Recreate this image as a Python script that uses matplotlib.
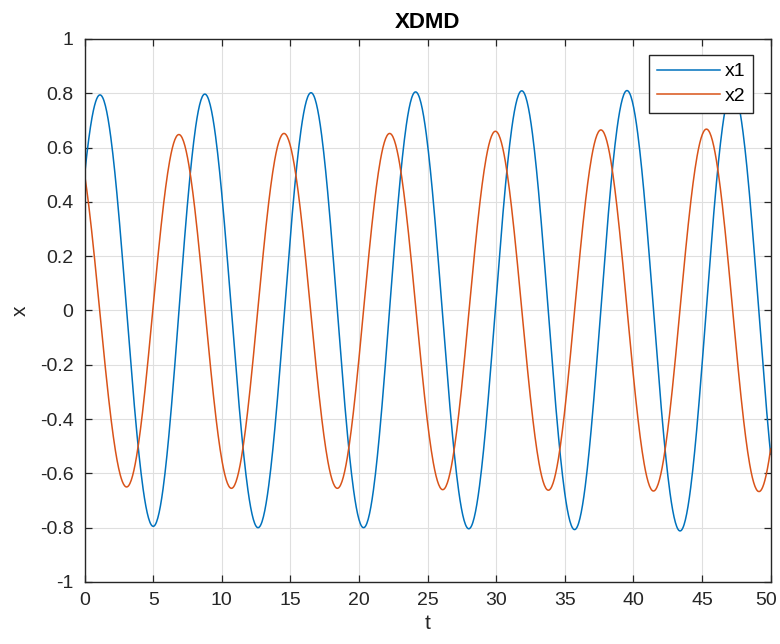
import numpy as np
import matplotlib
matplotlib.use("Agg")
import matplotlib.pyplot as plt
import matplotlib.transforms as mtransforms
from matplotlib.ticker import FixedLocator, FuncFormatter

plt.rcParams['font.family'] = ['Liberation Sans', 'DejaVu Sans']
plt.rcParams['axes.unicode_minus'] = False

# Key points of each state: start value, successive peaks/troughs, end value
t_x1 = [0.0, 1.12, 5.00, 8.76, 12.64, 16.50, 20.33, 24.12, 28.00, 31.86,
        35.71, 39.53, 43.40, 47.21, 50.0]
v_x1 = [0.50, 0.794, -0.795, 0.797, -0.800, 0.802, -0.800, 0.805, -0.804,
        0.809, -0.807, 0.810, -0.812, 0.815, -0.53]

t_x2 = [0.0, 3.06, 6.87, 10.70, 14.53, 18.42, 22.23, 26.10, 29.94, 33.80,
        37.63, 41.46, 45.32, 49.15, 50.0]
v_x2 = [0.50, -0.650, 0.648, -0.655, 0.652, -0.655, 0.652, -0.660, 0.660,
        -0.662, 0.665, -0.665, 0.668, -0.667, -0.51]

series_names = ['x1', 'x2']
series_colors = ['#0072BD', '#D95319']

x_ticks = list(range(0, 51, 5))
y_ticks = [round(-1 + 0.2 * i, 1) for i in range(11)]


def trace(tk, vk, n=80):
    """Join the key points with sinusoidal arcs (flat at each extremum)."""
    last = len(tk) - 1
    ts, vs = [], []
    s = np.linspace(0.0, 1.0, n)
    for i in range(last):
        t0, t1, v0, v1 = tk[i], tk[i + 1], vk[i], vk[i + 1]
        if i == 0:
            ph = np.arccos(np.clip(v0 / v1, -1, 1)) * (1 - s)
            v = v1 * np.cos(ph)
        elif i == last - 1:
            ph = np.arccos(np.clip(v1 / v0, -1, 1)) * s
            v = v0 * np.cos(ph)
        else:
            v = (v0 + v1) / 2 + (v0 - v1) / 2 * np.cos(np.pi * s)
        t = t0 + (t1 - t0) * s
        if i > 0:
            t, v = t[1:], v[1:]
        ts.append(t)
        vs.append(v)
    return np.concatenate(ts), np.concatenate(vs)


fig = plt.figure(figsize=(7.8, 6.44), dpi=100)
ax = fig.add_axes([0.1085, 0.0963, 0.8795, 0.8432])

for tk, vk, name, col in zip([t_x1, t_x2], [v_x1, v_x2], series_names, series_colors):
    tt, vv = trace(tk, vk)
    ax.plot(tt, vv, color=col, lw=1.1, label=name)

ax.set_xlim(0, 50)
ax.set_ylim(-1, 1)
ax.xaxis.set_major_locator(FixedLocator(x_ticks))
ax.yaxis.set_major_locator(FixedLocator(y_ticks))
ax.yaxis.set_major_formatter(FuncFormatter(lambda v, p: f"{v:g}"))
ax.xaxis.set_major_formatter(FuncFormatter(lambda v, p: f"{v:g}"))

dark = '#262626'
for sp in ax.spines.values():
    sp.set_color(dark)
    sp.set_linewidth(1.0)
ax.tick_params(direction='in', length=5, width=0.9, color=dark,
               labelcolor=dark, labelsize=14, top=True, right=True)
ax.tick_params(axis='x', pad=7)
ax.tick_params(axis='y', pad=8)
ax.grid(True, color='#dfdfdf', lw=0.8)
ax.set_axisbelow(True)

ax.set_title('XDMD', fontsize=16, fontweight='bold', color='black', pad=8)
ax.set_xlabel('t', fontsize=15, color=dark, labelpad=4)
ax.set_ylabel('x', fontsize=15, color=dark, labelpad=7)

leg = ax.legend(loc='upper right', bbox_to_anchor=(0.9745, 0.9705),
                borderaxespad=0, fontsize=14, fancybox=False, framealpha=1,
                edgecolor=dark, handlelength=3.25, handletextpad=0.25,
                labelspacing=0.35, borderpad=0.4)
leg.get_frame().set_linewidth(1.0)
for txt in leg.get_texts():
    txt.set_color('black')

# keep the last x tick label inside the canvas
fig.canvas.draw()
last_lbl = ax.xaxis.get_major_ticks()[-1].label1
last_lbl.set_transform(last_lbl.get_transform() +
                       mtransforms.ScaledTranslation(-3 / 72, 0, fig.dpi_scale_trans))

fig.savefig('out.png', dpi=100)
